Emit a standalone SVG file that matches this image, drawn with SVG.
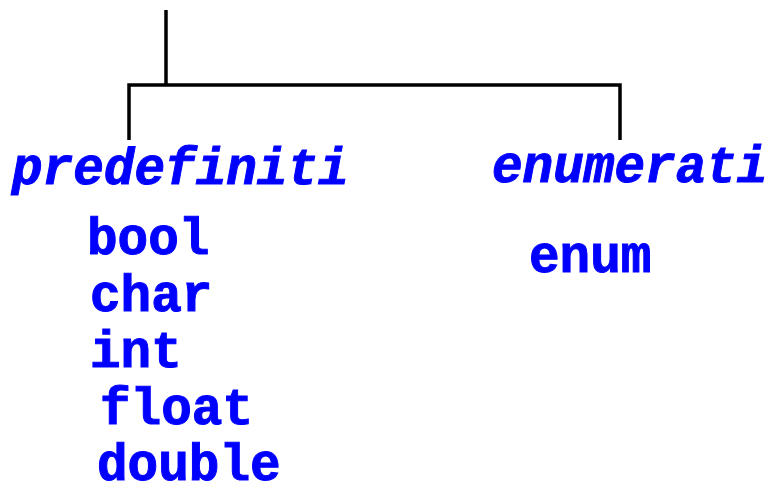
<svg xmlns="http://www.w3.org/2000/svg" width="769" height="491" viewBox="0 0 769 491">
<style>
.t{font-family:"Liberation Mono","Courier New",monospace;font-weight:bold;fill:#0000FF;stroke:#0000FF;stroke-width:1;font-size:51px}
.i{font-style:italic}
.c{stroke:#000;stroke-width:3.5;fill:none}
</style>
<rect width="769" height="491" fill="#fff"/>
<g id="connectors">
<path class="c" d="M166 10V85"/>
<path class="c" d="M129 140V85H620V140"/>
</g>
<g id="predefiniti"><text class="t i" x="12" y="184">predefiniti</text></g>
<g id="enumerati"><text class="t i" x="492" y="182">enumerati</text></g>
<g id="bool"><text class="t" x="87" y="254">bool</text></g>
<g id="char"><text class="t" x="90" y="311">char</text></g>
<g id="int"><text class="t" x="90" y="367">int</text></g>
<g id="float"><text class="t" x="100" y="424">float</text></g>
<g id="double"><text class="t" x="97" y="480">double</text></g>
<g id="enum"><text class="t" x="529" y="272">enum</text></g>
</svg>
